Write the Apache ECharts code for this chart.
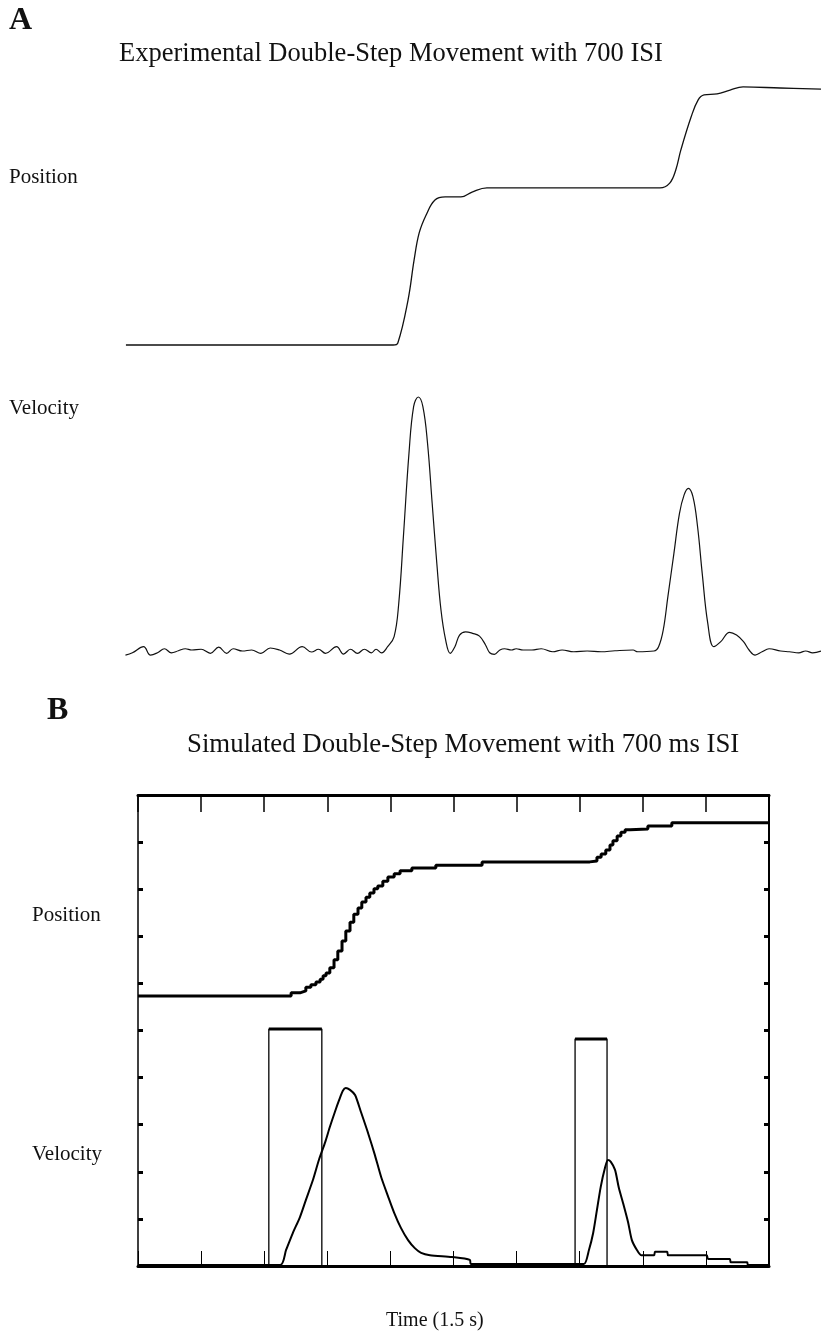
<!DOCTYPE html>
<html>
<head>
<meta charset="utf-8">
<script src="https://cdn.jsdelivr.net/npm/echarts@6/dist/echarts.min.js"></script>
<style>
  html, body { margin: 0; padding: 0; background: #fff; }
  #chart { width: 821px; height: 1332px; }
</style>
</head>
<body>
<div id="chart"></div>
<script>
// panel A: recorded movement (time in ms, arbitrary units)
var posATime  = [2, 578, 588, 610, 623, 634, 649, 668, 690, 724, 748, 780, 1153, 1174, 1187, 1198, 1220, 1235, 1248, 1276, 1304, 1332, 1412, 1500];
var posAValue = [0, 0, 0.008, 0.175, 0.33, 0.436, 0.506, 0.564, 0.576, 0.576, 0.595, 0.611, 0.611, 0.63, 0.681, 0.759, 0.887, 0.953, 0.973, 0.977, 0.992, 1.004, 1.0, 0.996];

var velATime  = [1, 16, 40, 55, 70, 85, 100, 115, 130, 144, 164, 184, 202, 219, 233, 253, 273, 293, 313, 333, 354, 382, 402, 417, 432, 456, 471, 486, 501, 516, 531, 541, 553, 566,
                 580, 590, 600, 612, 622, 632, 642, 652, 662, 672, 681, 691, 701, 711, 721, 734, 749, 764, 777, 786, 796, 808, 818, 833, 843, 858, 877, 897, 922, 942, 967, 996, 1026, 1056, 1095, 1105, 1140,
                 1150, 1160, 1170, 1183, 1195, 1205, 1214, 1224, 1234, 1244, 1256, 1269, 1284, 1303, 1318, 1333, 1345, 1358, 1373, 1388, 1413, 1432, 1452, 1467, 1482, 1500];
var velAValue = [-0.02, -0.011, 0.013, -0.02, -0.011, 0.005, -0.011, -0.003, 0.005, 0, 0.003, -0.013, 0.011, -0.013, 0.005, -0.004, 0, -0.013, 0.008, 0, -0.016, 0.013, -0.008, 0.003, -0.013, 0.013, -0.016, 0.003, -0.013, 0.003, -0.011, 0.003, -0.011, 0.013,
                 0.053, 0.185, 0.448, 0.777, 0.962, 1.0, 0.962, 0.817, 0.58, 0.343, 0.158, 0.04, -0.013, 0.013, 0.059, 0.072, 0.066, 0.055, 0.02, -0.011, -0.017, 0, 0.005, 0, 0.005, 0, 0, 0.005, -0.007, 0, -0.007, -0.004, -0.007, -0.003, 0, -0.007, -0.004,
                 0.013, 0.079, 0.211, 0.382, 0.54, 0.613, 0.639, 0.606, 0.487, 0.303, 0.105, 0.013, 0.033, 0.07, 0.059, 0.033, 0, -0.02, -0.007, 0.005, -0.004, -0.007, -0.011, -0.004, -0.011, -0.004];

// panel B: simulation (time in ms, y in axis divisions)
var posBTime  = [0, 359, 364, 385, 399, 411, 423, 433, 440, 447, 456, 466, 475, 485, 494, 504, 513, 523, 532, 542, 551, 561, 570, 582, 594, 609, 623, 651, 708, 818,
                 1074, 1091, 1101, 1112, 1122, 1129, 1139, 1148, 1158, 1170, 1212, 1269, 1500];
var posBValue = [5.73, 5.73, 5.8, 5.84, 5.92, 5.97, 6.03, 6.09, 6.16, 6.22, 6.33, 6.5, 6.69, 6.9, 7.11, 7.3, 7.47, 7.6, 7.73, 7.83, 7.92, 8.01, 8.07, 8.17, 8.26, 8.33, 8.39, 8.45, 8.51, 8.58,
                 8.6, 8.68, 8.75, 8.83, 8.94, 9.03, 9.13, 9.21, 9.26, 9.28, 9.34, 9.41, 9.41];

var velBTime  = [0, 338, 352, 368, 385, 399, 416, 430, 445, 456, 468, 478, 487, 494, 504, 516, 530, 547, 563, 578, 594, 609, 625, 642, 658, 673, 694, 746, 789, 791, 1027,
                 1060, 1072, 1082, 1091, 1100, 1110, 1117, 1124, 1134, 1143, 1153, 1165, 1174, 1186, 1196, 1227, 1229, 1258, 1260, 1352, 1355, 1407, 1409, 1448, 1450, 1500];
var velBValue = [0.02, 0.02, 0.34, 0.7, 1.04, 1.4, 1.83, 2.25, 2.63, 2.95, 3.27, 3.52, 3.72, 3.78, 3.74, 3.63, 3.27, 2.82, 2.36, 1.89, 1.49, 1.13, 0.81, 0.55, 0.38, 0.28, 0.23, 0.19, 0.13, 0.04, 0.04,
                 0.04, 0.34, 0.7, 1.19, 1.68, 2.08, 2.25, 2.21, 2.04, 1.66, 1.34, 0.93, 0.55, 0.34, 0.23, 0.23, 0.3, 0.3, 0.23, 0.23, 0.15, 0.15, 0.08, 0.08, 0.02, 0.02];

var pulseOn    = [311, 1039];
var pulseOff   = [437, 1115];
var pulseLevel = [5.03, 4.82];

function zip(xs, ys) {
  return xs.map(function (x, i) { return [x, ys[i]]; });
}

var pulseSides = [], pulseTops = [];
pulseOn.forEach(function (on, i) {
  pulseSides.push([on, 0], [on, pulseLevel[i]], [pulseOff[i], pulseLevel[i]], [pulseOff[i], 0], null);
  pulseTops.push([on, pulseLevel[i]], [pulseOff[i], pulseLevel[i]], null);
});

var serif = '"Liberation Serif", "DejaVu Serif", serif';
function label(text, x, y, size, weight) {
  return {
    type: 'text', x: x, y: y, silent: true,
    style: { text: text, font: (weight || 'normal') + ' ' + size + 'px ' + serif, fill: '#111', verticalAlign: 'middle' }
  };
}

var hidden = { show: false };
function frameAxis(pos, lineW, tickLen, tickW) {
  return {
    gridIndex: 2, type: 'value', min: 0, position: pos,
    axisLine: { onZero: false, lineStyle: { color: '#000', width: lineW } },
    axisTick: { inside: true, length: tickLen, lineStyle: { color: '#000', width: tickW } },
    axisLabel: hidden, splitLine: hidden
  };
}

var chart = echarts.init(document.getElementById('chart'));

var xBottom = frameAxis('bottom', 3, 15, 1);
var xTop = frameAxis('top', 3, 17, 1.5);
var yLeft = frameAxis('left', 1.5, 5, 3);
var yRight = frameAxis('right', 2, 5, 3);
[xBottom, xTop].forEach(function (a) { a.max = 1500; a.interval = 150; });
[yLeft, yRight].forEach(function (a) { a.max = 10; a.interval = 1; });

var option = {
  backgroundColor: '#fff',
  animation: false,
  graphic: [
    label('A', 9, 21, 32, 'bold'),
    label('Experimental Double-Step Movement with 700 ISI', 119, 54, 26.5),
    label('Position', 9, 177, 21),
    label('Velocity', 9, 408, 21),
    label('B', 47, 711, 32, 'bold'),
    label('Simulated Double-Step Movement with 700 ms ISI', 187, 745, 26.8),
    label('Position', 32, 915, 21),
    label('Velocity', 32, 1154, 21),
    label('Time (1.5 s)', 386, 1321, 20)
  ],
  grid: [
    { left: 125, right: 0, top: 88, height: 257 },
    { left: 125, right: 0, top: 397, height: 278.3 },
    { left: 138, right: 52, top: 795, bottom: 66 }
  ],
  xAxis: [
    { gridIndex: 0, type: 'value', min: 0, max: 1500, show: false },
    { gridIndex: 1, type: 'value', min: 0, max: 1500, show: false },
    xBottom,
    xTop
  ],
  yAxis: [
    { gridIndex: 0, type: 'value', min: 0, max: 1, show: false },
    { gridIndex: 1, type: 'value', min: -0.1, max: 1, show: false },
    yLeft,
    yRight
  ],
  series: [
    {
      name: 'Position A', type: 'line', xAxisIndex: 0, yAxisIndex: 0,
      data: zip(posATime, posAValue), smooth: 0.4, showSymbol: false, clip: false,
      lineStyle: { color: '#111', width: 1.3 }
    },
    {
      name: 'Velocity A', type: 'line', xAxisIndex: 1, yAxisIndex: 1,
      data: zip(velATime, velAValue), smooth: 0.4, showSymbol: false, clip: false,
      lineStyle: { color: '#111', width: 1.2 }
    },
    {
      name: 'Position B', type: 'line', xAxisIndex: 2, yAxisIndex: 2,
      data: zip(posBTime, posBValue), step: 'end', showSymbol: false,
      lineStyle: { color: '#000', width: 3 }
    },
    {
      name: 'Pulse', type: 'line', xAxisIndex: 2, yAxisIndex: 2,
      data: pulseSides, showSymbol: false, connectNulls: false,
      lineStyle: { color: '#000', width: 1.3 }
    },
    {
      name: 'Pulse top', type: 'line', xAxisIndex: 2, yAxisIndex: 2,
      data: pulseTops, showSymbol: false, connectNulls: false,
      lineStyle: { color: '#000', width: 3 }
    },
    {
      name: 'Velocity B', type: 'line', xAxisIndex: 2, yAxisIndex: 2,
      data: zip(velBTime, velBValue), smooth: 0.25, showSymbol: false,
      lineStyle: { color: '#000', width: 2 }
    }
  ]
};

chart.setOption(option);
</script>
</body>
</html>
